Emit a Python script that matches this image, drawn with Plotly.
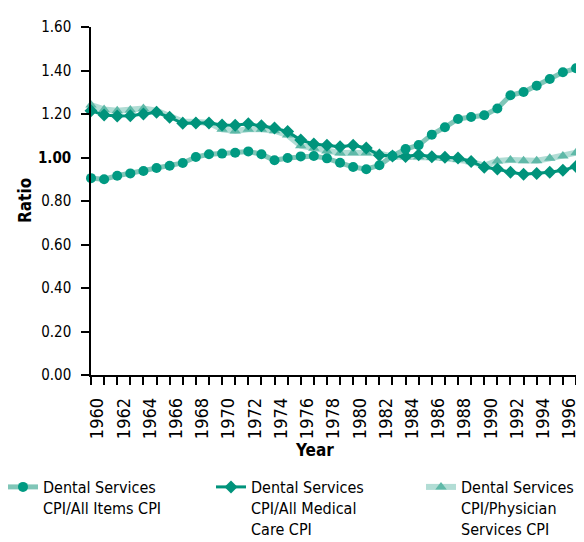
import plotly.graph_objects as go

years = list(range(1960, 1998))

all_items = [0.905, 0.900, 0.916, 0.927, 0.938, 0.952, 0.962, 0.975, 1.002, 1.015,
             1.018, 1.022, 1.028, 1.015, 0.987, 0.998, 1.005, 1.007, 0.996, 0.976,
             0.956, 0.946, 0.964, 1.007, 1.039, 1.057, 1.105, 1.139, 1.177, 1.186,
             1.194, 1.225, 1.286, 1.301, 1.330, 1.361, 1.392, 1.410]

medical_care = [1.215, 1.195, 1.191, 1.192, 1.200, 1.208, 1.185, 1.157, 1.159, 1.159,
                1.149, 1.148, 1.155, 1.146, 1.136, 1.119, 1.080, 1.062, 1.056, 1.049,
                1.056, 1.044, 1.010, 1.007, 1.005, 1.013, 1.004, 1.001, 0.998, 0.982,
                0.955, 0.947, 0.932, 0.923, 0.926, 0.932, 0.941, 0.959]

physician = [1.241, 1.221, 1.215, 1.218, 1.225, 1.215, 1.188, 1.165, 1.163, 1.160,
             1.130, 1.122, 1.130, 1.130, 1.123, 1.103, 1.054, 1.042, 1.030, 1.021,
             1.022, 1.022, 1.019, 1.004, 1.004, 1.004, 1.000, 0.996, 0.991, 0.981,
             0.963, 0.984, 0.989, 0.985, 0.985, 0.996, 1.007, 1.022]

label_years = list(range(1960, 1997, 2))
y_ticks = [0, 0.2, 0.4, 0.6, 0.8, 1.0, 1.2, 1.4, 1.6]
y_text = ["0.00", "0.20", "0.40", "0.60", "0.80", "<b>1.00</b>", "1.20", "1.40", "1.60"]

FONT = "DejaVu Sans Condensed, DejaVu Sans, sans-serif"

# page body has an 8px margin, so the figure is sized to the visible area
W, H = 576, 534
L, T, R, B = 83, 19, 8, 167
PW, PH = W - L - R, H - T - B

fig = go.Figure()
# drawn back to front: physician, medical care, all items
fig.add_trace(go.Scatter(x=years, y=physician, mode="lines+markers", cliponaxis=False,
                         name="Dental Services<br>CPI/Physician<br>Services CPI", legend="legend3",
                         line=dict(color="#B2DDD5", width=6),
                         marker=dict(symbol="triangle-up", size=10, color="#5FB9A8")))
fig.add_trace(go.Scatter(x=years, y=medical_care, mode="lines+markers", cliponaxis=False,
                         name="Dental Services<br>CPI/All Medical<br>Care CPI", legend="legend2",
                         line=dict(color="#00937B", width=3),
                         marker=dict(symbol="diamond", size=10, color="#00937B")))
fig.add_trace(go.Scatter(x=years, y=all_items, mode="lines+markers", cliponaxis=False,
                         name="Dental Services<br>CPI/All Items CPI", legend="legend",
                         line=dict(color="#80C6B8", width=5),
                         marker=dict(symbol="circle", size=10, color="#009A82")))

leg = dict(xref="paper", yref="container", y=(H - 462) / H, xanchor="left", yanchor="top",
           valign="top", font=dict(size=16), bgcolor="rgba(0,0,0,0)")

fig.update_layout(
    width=W, height=H,
    margin=dict(l=L, r=R, t=T, b=B, autoexpand=False),
    plot_bgcolor="white", paper_bgcolor="white",
    font=dict(family=FONT, size=15, color="black"),
    showlegend=True,
    legend=dict(leg, x=(-5 - L) / PW),
    legend2=dict(leg, x=(203 - L) / PW),
    legend3=dict(leg, x=(413 - L) / PW),
    annotations=[
        dict(text="<b>Ratio</b>", textangle=-90, xref="paper", yref="paper",
             x=(17 - L) / PW, y=0.5, xanchor="center", yanchor="middle",
             showarrow=False, font=dict(size=17)),
        dict(text="<b>Year</b>", xref="paper", yref="paper",
             x=(306 - L) / PW, y=(PH + T - 442) / PH, xanchor="center", yanchor="middle",
             showarrow=False, font=dict(size=17)),
    ],
)
fig.update_xaxes(
    range=[1960, 1997], showline=True, linecolor="black", linewidth=1.5, automargin=False,
    tickmode="array", tickvals=[y + 0.5 for y in label_years], ticktext=[str(y) for y in label_years],
    tickangle=-90, ticks="", showgrid=False, zeroline=False, tickfont=dict(size=18),
    ticklabelstandoff=14,
    minor=dict(ticks="outside", tickmode="linear", tick0=1960, dtick=1, ticklen=8,
               tickcolor="black", tickwidth=1.5, showgrid=False),
)
fig.update_yaxes(
    range=[0, 1.6], showline=True, linecolor="black", linewidth=1.5, automargin=False,
    tickmode="array", tickvals=y_ticks, ticktext=y_text, ticklabelstandoff=7,
    ticks="outside", ticklen=8, tickcolor="black", tickwidth=1.5, showgrid=False, zeroline=False,
)

fig.write_html("out.html")
